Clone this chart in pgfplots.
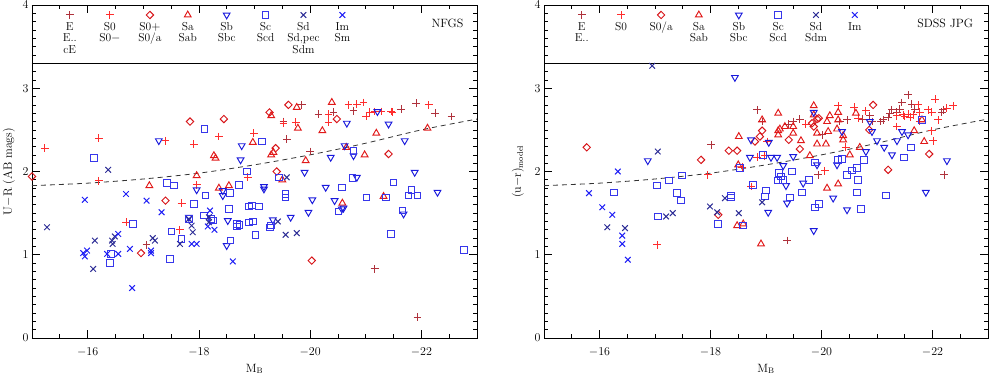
\documentclass[border=0pt]{standalone}
\usepackage{pgfplots}
\pgfplotsset{compat=1.18}

\definecolor{cE}{RGB}{175,50,60}
\definecolor{cSz}{RGB}{255,45,45}
\definecolor{cSoa}{RGB}{215,20,25}
\definecolor{cSa}{RGB}{225,25,25}
\definecolor{cSb}{RGB}{25,25,220}
\definecolor{cSc}{RGB}{55,55,235}
\definecolor{cSd}{RGB}{45,45,150}
\definecolor{cIm}{RGB}{30,30,245}

\tikzset{lab/.style={font=\fontsize{11.5}{11.5}\selectfont, align=center, anchor=north, inner sep=0pt}}

\pgfplotsset{
  pE/.style={only marks, mark=+, mark size=3.9pt, color=cE, mark options={line width=1pt}},
  pS0/.style={only marks, mark=+, mark size=3.9pt, color=cSz, mark options={line width=1pt}},
  pS0a/.style={only marks, mark=square, mark size=2.6pt, color=cSoa, mark options={line width=0.95pt, rotate=45}},
  pSa/.style={only marks, mark=triangle, mark size=3.9pt, color=cSa, mark options={line width=0.95pt}},
  pSb/.style={only marks, mark=triangle, mark size=3.9pt, color=cSb, mark options={line width=0.95pt, rotate=180}},
  pSc/.style={only marks, mark=square, mark size=3.3pt, color=cSc, mark options={line width=0.95pt}},
  pSd/.style={only marks, mark=x, mark size=4pt, color=cSd, mark options={line width=1pt}},
  pIm/.style={only marks, mark=x, mark size=4pt, color=cIm, mark options={line width=1pt}},
  myaxis/.style={
    scale only axis, width=445pt, height=333pt,
    x dir=reverse, xmin=-23, xmax=-15, ymin=0, ymax=4,
    xtick={-16,-18,-20,-22},
    minor xtick={-15.5,-16.5,-17,-17.5,-18.5,-19,-19.5,-20.5,-21,-21.5,-22.5},
    ytick={0,1,2,3,4},
    minor ytick={0,0.1,...,4},
    major tick length=8pt, minor tick length=4pt,
    tick style={black, line width=0.7pt},
    axis line style={line width=0.8pt},
    tick label style={font=\fontsize{12}{13}\selectfont},
    label style={font=\fontsize{12}{13}\selectfont},
    xticklabel style={yshift=-6pt},
    xlabel={M$_{\mathrm{B}}$},
    xlabel style={at={(axis description cs:0.5,0)}, anchor=base, yshift=-34pt},
  },
}

\begin{document}
\begin{tikzpicture}
\useasboundingbox (0,0) rectangle (990pt,375pt);

% ---------------- NFGS ----------------
\begin{axis}[myaxis, at={(32pt,37pt)}, anchor=south west,
  ylabel={U$-$R (AB mags)},
  ylabel style={at={(axis description cs:0,0.5)}, anchor=center, yshift=23pt}]

\addplot[black, line width=0.8pt] coordinates {(-15,3.3) (-23,3.3)};
\addplot[black!80, dash pattern=on 5pt off 4pt, line width=0.8pt, smooth] coordinates {
(-15,1.83) (-16,1.86) (-17,1.91) (-18,1.98) (-19,2.08) (-20,2.20) (-21,2.34) (-22,2.50) (-23,2.63)};

% legend marks
\addplot[pE] coordinates {(-15.68,3.88)};
\addplot[pS0] coordinates {(-16.40,3.88)};
\addplot[pS0a] coordinates {(-17.12,3.88)};
\addplot[pSa] coordinates {(-17.80,3.88)};
\addplot[pSb] coordinates {(-18.50,3.88)};
\addplot[pSc] coordinates {(-19.20,3.88)};
\addplot[pSd] coordinates {(-19.88,3.88)};
\addplot[pIm] coordinates {(-20.58,3.88)};
\node[lab] at (axis cs:-15.68,3.795) {E\\E..\\cE};
\node[lab] at (axis cs:-16.40,3.795) {S0\\S0$-$};
\node[lab] at (axis cs:-17.12,3.795) {S0$+$\\S0/a};
\node[lab] at (axis cs:-17.80,3.795) {Sa\\Sab};
\node[lab] at (axis cs:-18.50,3.795) {Sb\\Sbc};
\node[lab] at (axis cs:-19.20,3.795) {Sc\\Scd};
\node[lab] at (axis cs:-19.88,3.795) {Sd\\Sd,pec\\Sdm};
\node[lab] at (axis cs:-20.58,3.795) {Im\\Sm};
\node[font=\fontsize{12}{13}\selectfont, inner sep=0pt] at (axis cs:-22.47,3.78) {NFGS};

% data
\addplot[pE] coordinates {
(-19.85,2.80) (-20.15,2.69) (-20.42,2.71) (-19.52,2.60) (-19.58,2.39) (-20.78,2.73)
(-21.64,2.75) (-21.91,2.82) (-22.25,2.70) (-22.54,2.66) (-20.00,2.24) (-17.06,1.12)
(-21.16,0.83) (-21.93,0.25)};
\addplot[pS0] coordinates {
(-15.23,2.28) (-16.20,2.40) (-16.20,1.89) (-17.40,2.37) (-17.69,1.62) (-17.96,1.84)
(-17.91,2.33) (-18.36,2.42) (-18.88,1.93) (-20.33,2.69) (-20.33,2.59) (-19.52,2.58)
(-19.74,2.59) (-18.99,2.46) (-20.69,2.80) (-20.84,2.81) (-20.96,2.83) (-21.01,2.66)
(-21.07,2.71) (-21.16,2.72) (-21.28,2.72) (-21.46,2.72) (-21.48,2.71) (-22.13,2.80)
(-16.69,1.39) (-17.66,1.30)};
\addplot[pS0a] coordinates {
(-15.00,1.94) (-17.40,1.65) (-17.84,2.60) (-18.45,2.63) (-19.27,2.71) (-19.61,2.80)
(-20.48,2.63) (-19.38,2.28) (-21.41,2.21) (-19.40,2.00) (-20.03,0.93) (-16.96,1.02)};
\addplot[pSa] coordinates {
(-17.11,1.83) (-17.96,1.95) (-18.27,2.19) (-18.30,2.16) (-18.36,1.80) (-18.54,1.83)
(-19.30,2.67) (-19.76,2.77) (-20.39,2.83) (-19.78,2.52) (-18.97,2.35) (-20.22,2.49)
(-21.19,2.46) (-22.11,2.52) (-19.30,2.20) (-19.34,2.23) (-19.92,2.13) (-20.65,2.29)
(-20.98,2.20) (-19.50,1.90) (-20.58,1.62) (-21.32,1.70)};
\addplot[pSb] coordinates {
(-17.28,2.37) (-17.96,1.78) (-18.43,1.77) (-18.43,1.71) (-18.77,2.31) (-18.75,2.14)
(-20.66,2.58) (-21.21,2.72) (-21.41,2.57) (-21.70,2.37) (-20.37,2.17) (-20.62,2.31)
(-20.78,2.19) (-19.90,1.99) (-19.17,1.82) (-19.17,1.79) (-20.28,1.81) (-20.84,1.93)
(-21.88,1.99) (-22.29,1.75) (-20.04,1.66) (-20.44,1.65) (-20.57,1.55) (-20.60,1.56)
(-19.97,1.51) (-19.65,1.45) (-21.68,1.49) (-19.33,1.42) (-18.52,1.41) (-18.50,1.11)
(-17.82,1.45)};
\addplot[pSc] coordinates {
(-16.11,2.16) (-17.43,1.86) (-17.55,1.83) (-17.91,1.61) (-18.12,1.71) (-18.10,2.51)
(-18.86,2.00) (-18.56,1.74) (-18.72,1.84) (-18.54,1.55) (-18.90,1.58) (-19.13,2.36)
(-19.44,1.93) (-20.78,2.25) (-20.57,1.81) (-20.76,1.92) (-21.50,1.87) (-21.82,1.78)
(-21.77,1.71) (-21.93,1.71) (-19.56,1.73) (-19.56,1.69) (-18.95,1.59) (-19.08,1.58)
(-20.51,1.52) (-21.01,1.69) (-21.36,1.69) (-21.66,1.53) (-18.97,1.40) (-19.02,1.24)
(-19.30,1.35) (-19.28,1.33) (-21.45,1.25) (-22.77,1.06) (-18.73,1.36) (-16.42,1.01)
(-16.40,0.90) (-16.81,1.37) (-17.48,0.95) (-17.51,1.28) (-17.69,1.19) (-17.82,1.43)
(-18.09,1.47) (-18.23,1.43) (-18.25,1.41) (-18.68,1.37) (-18.68,1.34) (-18.57,1.17)
(-18.90,1.39)};
\addplot[pSd] coordinates {
(-16.37,2.02) (-19.58,1.93) (-19.42,1.40) (-19.56,1.24) (-19.76,1.26) (-15.27,1.33)
(-16.13,1.17) (-16.10,0.83) (-16.44,1.17) (-16.45,1.13) (-16.49,1.22) (-17.17,1.20)
(-17.21,1.17) (-17.66,1.13) (-17.82,1.43) (-17.87,1.35) (-17.89,1.27) (-18.18,1.45)
(-18.18,1.39)};
\addplot[pIm] coordinates {
(-15.95,1.66) (-16.69,1.73) (-17.06,1.65) (-17.33,1.51) (-18.20,1.53) (-15.92,1.02)
(-15.99,1.05) (-15.95,0.98) (-16.55,1.25) (-16.35,1.01) (-16.55,1.01) (-16.76,1.07)
(-16.80,0.60) (-17.14,1.02) (-17.14,1.05) (-17.87,1.13) (-17.96,1.13) (-18.16,1.34)
(-18.28,1.30) (-18.61,0.92)};
\end{axis}

% ---------------- SDSS JPG ----------------
\begin{axis}[myaxis, at={(544pt,37pt)}, anchor=south west, width=444pt,
  ylabel={(u$-$r)$_{\mathrm{model}}$},
  ylabel style={at={(axis description cs:0,0.5)}, anchor=center, yshift=26pt}]

\addplot[black, line width=0.8pt] coordinates {(-15,3.3) (-23,3.3)};
\addplot[black!80, dash pattern=on 5pt off 4pt, line width=0.8pt, smooth] coordinates {
(-15,1.83) (-16,1.86) (-17,1.91) (-18,1.98) (-19,2.08) (-20,2.20) (-21,2.34) (-22,2.50) (-23,2.63)};

\addplot[pE] coordinates {(-15.68,3.88)};
\addplot[pS0] coordinates {(-16.39,3.88)};
\addplot[pS0a] coordinates {(-17.11,3.88)};
\addplot[pSa] coordinates {(-17.79,3.88)};
\addplot[pSb] coordinates {(-18.51,3.88)};
\addplot[pSc] coordinates {(-19.22,3.88)};
\addplot[pSd] coordinates {(-19.90,3.88)};
\addplot[pIm] coordinates {(-20.60,3.88)};
\node[lab] at (axis cs:-15.68,3.795) {E\\E..};
\node[lab] at (axis cs:-16.39,3.795) {S0};
\node[lab] at (axis cs:-17.11,3.795) {S0/a};
\node[lab] at (axis cs:-17.79,3.795) {Sa\\Sab};
\node[lab] at (axis cs:-18.51,3.795) {Sb\\Sbc};
\node[lab] at (axis cs:-19.22,3.795) {Sc\\Scd};
\node[lab] at (axis cs:-19.90,3.795) {Sd\\Sdm};
\node[lab] at (axis cs:-20.60,3.795) {Im};
\node[font=\fontsize{12}{13}\selectfont, inner sep=0pt] at (axis cs:-22.23,3.78) {SDSS JPG};

\addplot[pE] coordinates {
(-18.01,2.32) (-19.38,1.17) (-18.84,2.74) (-18.93,2.60) (-19.40,2.57) (-19.49,2.60)
(-19.61,2.63) (-20.01,2.44) (-19.94,1.96) (-20.33,2.60) (-20.46,2.62) (-20.73,2.63)
(-20.87,2.67) (-20.91,2.60) (-21.07,2.60) (-21.11,2.62) (-21.20,2.65) (-21.27,2.74)
(-21.23,2.70) (-21.36,2.71) (-21.41,2.75) (-21.45,2.83) (-21.56,2.92) (-21.63,2.81)
(-21.68,2.75) (-22.17,2.71) (-22.19,2.74) (-22.21,1.96)};
\addplot[pS0] coordinates {
(-17.95,1.96) (-17.04,1.12) (-19.02,2.36) (-19.72,2.57) (-20.06,2.01) (-20.30,2.79)
(-20.44,2.29) (-20.59,2.77) (-20.66,2.64) (-20.80,2.73) (-21.36,2.67) (-21.47,2.68)
(-21.56,2.69) (-21.65,2.68) (-21.74,2.80) (-21.77,2.71) (-21.36,2.54) (-21.77,2.60)
(-22.05,2.87) (-21.92,2.74) (-21.99,2.71) (-22.26,2.76) (-22.37,2.79) (-22.10,2.62)
(-21.99,2.49) (-22.01,2.37) (-18.98,2.19) (-18.84,2.17) (-18.57,2.05) (-18.73,1.82)
(-21.50,2.66) (-21.60,2.65)};
\addplot[pS0a] coordinates {
(-15.77,2.29) (-17.83,2.14) (-18.33,2.25) (-18.48,2.25) (-18.14,1.48) (-18.93,2.49)
(-18.89,2.42) (-18.80,2.36) (-19.41,2.38) (-19.61,2.27) (-19.83,2.58) (-19.92,2.63)
(-19.95,2.64) (-19.86,2.54) (-20.86,2.50) (-20.93,2.80) (-21.94,2.21) (-21.20,2.02)};
\addplot[pSa] coordinates {
(-18.51,2.42) (-18.50,2.08) (-18.48,1.35) (-18.59,1.37) (-18.91,1.13) (-19.22,2.70)
(-18.93,2.62) (-19.22,2.49) (-19.22,2.44) (-19.25,2.51) (-19.34,2.54) (-19.49,2.54)
(-19.49,2.46) (-19.63,2.37) (-19.86,2.79) (-19.86,2.68) (-19.92,2.46) (-19.92,2.33)
(-20.08,2.33) (-20.12,2.48) (-20.10,2.60) (-20.15,2.67) (-19.79,2.19) (-20.30,2.71)
(-20.30,2.62) (-20.28,2.51) (-20.39,2.38) (-20.39,2.43) (-20.51,2.20) (-20.62,2.70)
(-20.69,2.29) (-21.67,2.49) (-21.81,2.62) (-21.85,2.36) (-20.10,1.80) (-20.30,1.85)};
\addplot[pSb] coordinates {
(-18.44,3.13) (-16.87,2.13) (-19.04,1.51) (-19.86,1.29) (-20.46,1.54) (-19.38,1.62)
(-19.86,2.71) (-19.92,2.08) (-20.37,2.48) (-20.28,2.08) (-20.87,2.60) (-20.91,2.48)
(-20.80,2.24) (-21.00,2.37) (-21.13,2.29) (-21.27,2.20) (-21.36,2.37) (-21.45,2.48)
(-21.56,2.44) (-22.26,2.13) (-21.88,1.75) (-20.21,1.68) (-19.67,1.86) (-19.36,1.83)
(-19.09,2.17) (-19.20,2.17) (-19.05,2.35) (-19.31,2.07) (-19.49,2.18) (-18.73,2.38)
(-18.71,2.17)};
\addplot[pSc] coordinates {
(-16.26,1.75) (-17.04,1.83) (-17.25,1.89) (-17.40,1.74) (-17.47,1.65) (-17.49,1.95)
(-18.53,2.04) (-18.37,1.71) (-18.37,1.69) (-17.05,1.46) (-18.14,1.37) (-18.59,1.35)
(-19.88,1.57) (-19.95,1.61) (-20.71,1.55) (-19.88,2.11) (-20.30,2.14) (-20.37,2.15)
(-20.46,1.96) (-20.55,2.01) (-20.64,2.04) (-20.66,1.90) (-20.77,2.14) (-21.49,2.17)
(-21.61,2.29) (-21.81,2.62) (-21.16,1.71) (-20.64,1.75) (-19.43,1.69) (-19.65,1.75)
(-19.77,1.90) (-19.47,2.00) (-19.23,1.98) (-19.27,1.94) (-19.22,1.89) (-19.31,1.90)
(-18.95,2.20) (-18.77,1.84) (-19.00,1.77) (-18.98,1.70)};
\addplot[pSd] coordinates {
(-16.95,3.27) (-17.05,2.24) (-18.26,1.68) (-17.99,1.58) (-18.12,1.51) (-18.51,1.50)
(-17.20,1.46) (-17.32,1.50) (-16.14,1.33) (-16.46,1.32) (-18.93,1.63)};
\addplot[pIm] coordinates {
(-16.33,2.00) (-15.81,1.74) (-16.05,1.57) (-16.23,1.48) (-16.41,1.23) (-16.41,1.13)
(-16.51,0.94)};
\end{axis}
\end{tikzpicture}
\end{document}
